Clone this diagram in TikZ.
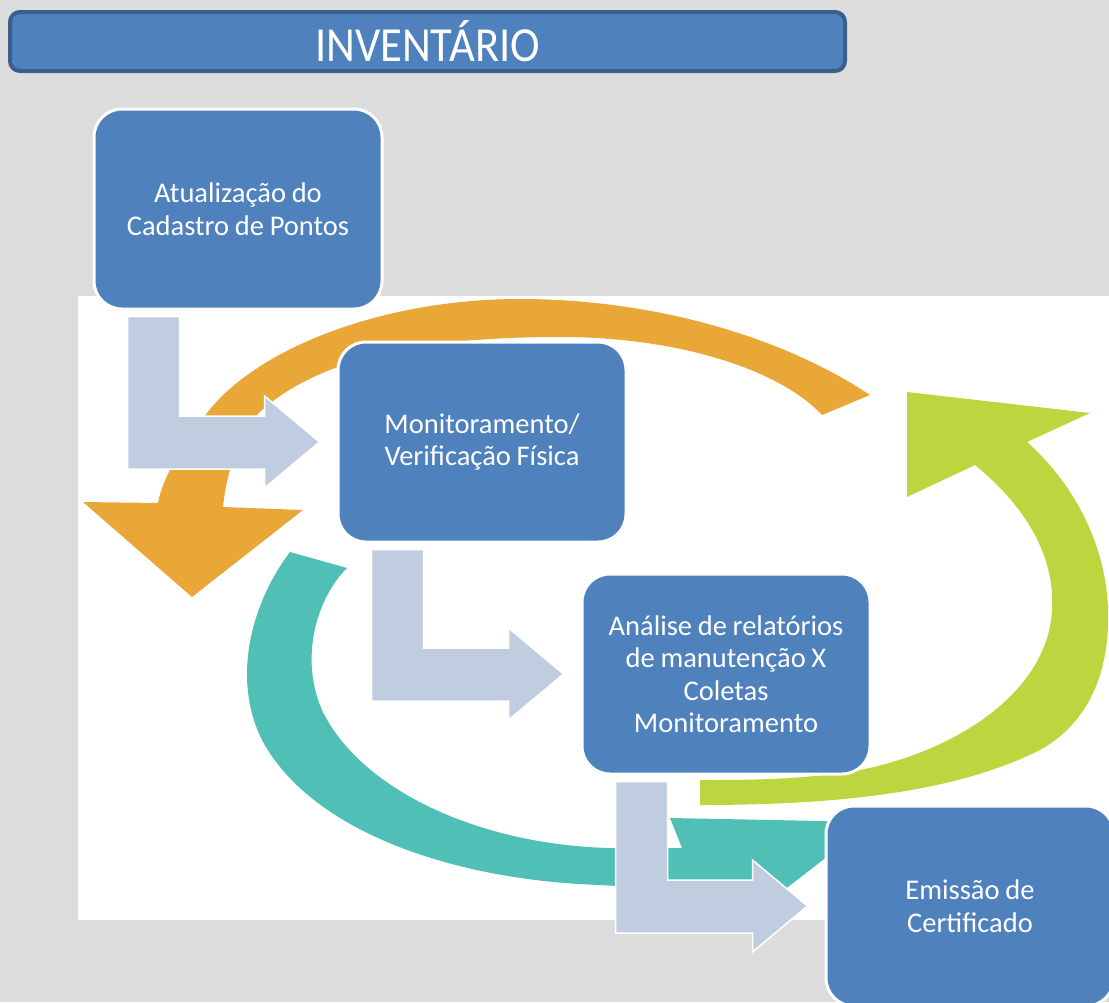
\documentclass[tikz,border=0pt]{standalone}
\usepackage{fontspec}
\setmainfont{Carlito}
\usepackage{xcolor}
\usepackage{graphicx}
\usepackage{tikz}
\usetikzlibrary{positioning,calc}
\definecolor{boxblue}{RGB}{79,129,189}
\definecolor{headerline}{RGB}{58,95,140}
\definecolor{backgray}{RGB}{220,220,220}
\definecolor{turngray}{RGB}{192,204,224}
\definecolor{arcorange}{RGB}{233,167,56}
\definecolor{arcgreen}{RGB}{189,214,64}
\definecolor{arcteal}{RGB}{80,192,182}
\tikzstyle{header}=[rectangle, draw=headerline, line width=4pt, rounded corners=10pt, fill=boxblue,
        text=white, minimum width=835pt, minimum height=59pt, font=\fontsize{49}{55}\selectfont]
\tikzstyle{stage}=[rectangle, draw=white, line width=3pt, rounded corners=28pt, fill=boxblue,
        align=center, text=white, text width=262pt, minimum width=288pt, minimum height=200pt,
        font=\fontsize{28.5}{32.5}\selectfont, execute at begin node={\spaceskip=0.2em\relax}]
\tikzstyle{turnarrow}=[fill=turngray, draw=white, line width=1.5pt, line join=miter]

\begin{document}
\begin{tikzpicture}[x=1pt, y=-1pt]
        \useasboundingbox (0,0) rectangle (1109,1002);
        \fill[backgray] (0,0) rectangle (1109,1002);
        \fill[white] (78,296) rectangle (1109,920);
        \begin{scope}
          \clip (78,296) rectangle (1109,920);
          \fill[arcorange] (870,395) .. controls (780,335) and (650,299) .. (520,299)
            .. controls (380,299) and (255,350) .. (207,413) .. controls (185,443) and (163,475) .. (158,503)
            -- (83,502) -- (192,597) -- (303,510) -- (223,507) .. controls (228,460) and (245,425) .. (262,410)
            .. controls (330,350) and (450,337) .. (560,337) .. controls (680,337) and (780,370) .. (822,415) -- cycle;
          \fill[arcgreen] (700,805) .. controls (850,805) and (960,790) .. (1040,750)
            .. controls (1090,722) and (1110,670) .. (1108,610) .. controls (1106,540) and (1070,480) .. (1027,442)
            -- (1090,413) -- (907,392) -- (907,497) -- (975,465) .. controls (1030,510) and (1055,560) .. (1052,610)
            .. controls (1048,690) and (960,750) .. (860,770) .. controls (800,780) and (750,780) .. (700,780) -- cycle;
          \fill[arcteal] (290,552) .. controls (250,605) and (232,680) .. (262,740)
            .. controls (310,830) and (450,880) .. (600,885) -- (688,890)
            -- (700,955) -- (872,822) -- (670,818) -- (682,848) -- (610,848)
            .. controls (480,845) and (360,790) .. (322,710) .. controls (300,660) and (315,600) .. (347,568) -- cycle;
        \end{scope}
        \node (title) [header] at (427.5,41.5) {\scalebox{0.91}[1]{INVENTÁRIO}};
        \node (update) [stage] at (238,209) {Atualização do\\Cadastro de Pontos};
        \node (monitor) [stage, below=30pt of update, xshift=244pt] {Monitoramento/\\Verificação Física};
        \node (analysis) [stage, below=29pt of monitor, xshift=244pt]
        {Análise de relatórios\\de manutenção X\\Coletas\\Monitoramento};
        \node (certificate) [stage, below=29pt of analysis, xshift=244pt] {Emissão de\\Certificado};
        \path[turnarrow] ($(update.south west)+(35,6)$) -- ++(52,0) |- ($(monitor.west)+(-72,-26)$)
          -- ++(0,-20) -- ($(monitor.west)+(-17,0)$) -- ($(monitor.west)+(-72,46)$) -- ++(0,-19)
          -| ($(update.south west)+(35,6)$) -- cycle;
        \path[turnarrow] ($(monitor.south west)+(35,6)$) -- ++(52,0) |- ($(analysis.west)+(-72,-26)$)
          -- ++(0,-20) -- ($(analysis.west)+(-17,0)$) -- ($(analysis.west)+(-72,46)$) -- ++(0,-19)
          -| ($(monitor.south west)+(35,6)$) -- cycle;
        \path[turnarrow] ($(analysis.south west)+(35,6)$) -- ++(52,0) |- ($(certificate.west)+(-72,-26)$)
          -- ++(0,-20) -- ($(certificate.west)+(-17,0)$) -- ($(certificate.west)+(-72,46)$) -- ++(0,-19)
          -| ($(analysis.south west)+(35,6)$) -- cycle;
\end{tikzpicture}
\end{document}
